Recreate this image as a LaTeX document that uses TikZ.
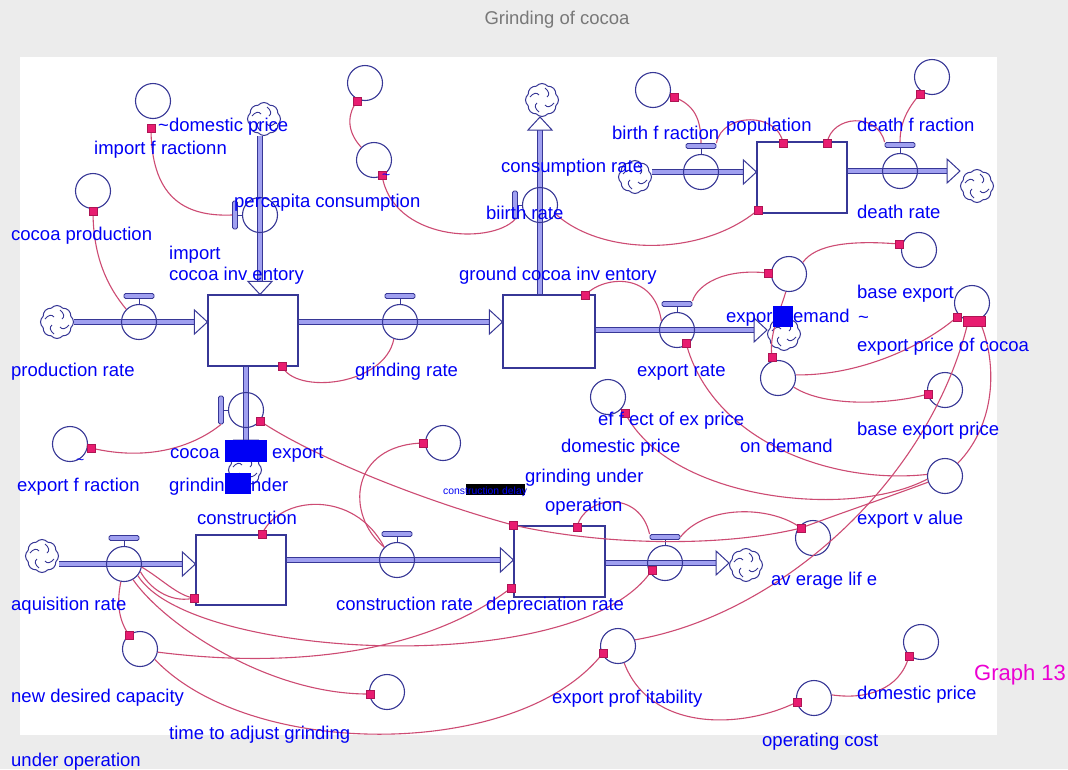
\documentclass[tikz,border=0pt]{standalone}
\usepackage{fontspec}
\setmainfont{Liberation Sans}
\usetikzlibrary{shapes.symbols,calc}

\definecolor{txtblue}{RGB}{0,0,245}
\definecolor{navyline}{RGB}{55,55,150}
\definecolor{pipefill}{RGB}{160,160,240}
\definecolor{linkred}{RGB}{205,75,115}
\definecolor{sqpink}{RGB}{232,28,112}
\definecolor{framegray}{RGB}{236,236,236}
\definecolor{titlegray}{RGB}{120,120,120}
\definecolor{graphmag}{RGB}{235,0,210}

\newcommand\labfont{\fontsize{18.5}{20}\selectfont}

\begin{document}
\begin{tikzpicture}[x=1pt,y=-1pt,
  lbl/.style={anchor=base west, inner sep=0pt, text=txtblue, font=\labfont},
  aux/.style={circle, draw=navyline, line width=1.1pt, minimum size=35pt, inner sep=0pt},
  vcirc/.style={circle, draw=navyline, line width=1.1pt, minimum size=35pt, inner sep=0pt},
  vbar/.style={rectangle, rounded corners=1.5pt, draw=navyline, fill=pipefill, line width=0.9pt, inner sep=0pt},
  stockbox/.style={rectangle, draw=navyline, fill=white, line width=1.1pt, inner sep=0pt},
  pipe/.style={draw=navyline, line width=1.1pt, double=pipefill, double distance=3.5pt},
  link/.style={draw=linkred, line width=1.1pt},
  sq/.style={rectangle, fill=sqpink, draw=sqpink!75!black, line width=0.3pt, minimum size=8.5pt, inner sep=0pt},
  hilite/.style={fill=txtblue},
  cloudnode/.style={cloud, cloud puffs=8, cloud puff arc=100, aspect=1, draw=navyline, fill=white, line width=1pt,
    minimum width=33pt, minimum height=33pt, inner sep=0pt},
  valveT/.pic={
    \node[vcirc] (-c) at (0,0) {};
    \draw[navyline, line width=1pt] (0,-17.5) -- (0,-23);
    \node[vbar, minimum width=30pt, minimum height=5pt] (-b) at (0,-26) {};
  },
  valveL/.pic={
    \node[vcirc] (-c) at (0,0) {};
    \draw[navyline, line width=1pt] (-17.5,0) -- (-23,0);
    \node[vbar, minimum width=5pt, minimum height=28pt] (-b) at (-25,0) {};
  },
  cloudpic/.pic={
    \node[cloudnode] (-n) at (0,0) {};
    \foreach \r in {0,90,180,270}{
      \draw[navyline, line width=0.9pt, rotate=\r] (3,-12) .. controls (7,-9) and (8,-5) .. (5,-3);
    }
  },
  pipetip/.pic={
    \draw[navyline, line width=1pt, fill=white] (0,0) -- (-13,-12) -- (-13,12) -- cycle;
  }
]
\useasboundingbox (0,0) rectangle (1068,769);
% page and drawing area
\fill[framegray] (0,0) rectangle (1068,769);
\fill[white] (20,57) rectangle (997,735);

\node[font=\labfont, text=titlegray, inner sep=0pt] (title) at (557,20) {Grinding of cocoa};

% clouds (sources and sinks)
\pic (c1) at (57,322) {cloudpic};
\pic (c2) at (264,119) {cloudpic};
\pic (c4) at (245,470) {cloudpic};
\pic (c5) at (542,100) {cloudpic};
\pic (c6) at (635,177) {cloudpic};
\pic (c7) at (977,186) {cloudpic};
\pic (c8) at (784,334) {cloudpic};
\pic (c9) at (42,556) {cloudpic};
\pic (c11) at (746,565) {cloudpic};

% stocks
\node[stockbox, minimum width=90pt, minimum height=71pt] (s1) at (253,330.5) {};
\node[stockbox, minimum width=92pt, minimum height=73pt] (s2) at (549,331.5) {};
\node[stockbox, minimum width=90pt, minimum height=71pt] (s3) at (802,177.5) {};
\node[stockbox, minimum width=90pt, minimum height=70pt] (s4) at (241,570) {};
\node[stockbox, minimum width=91pt, minimum height=71pt] (s5) at (559.5,561.5) {};

% valve positions (named coordinates for the flow lines)
\coordinate (p1) at (139,322);
\coordinate (p2) at (260,215);
\coordinate (p3) at (400,322);
\coordinate (p4) at (246,410);
\coordinate (p5) at (540,205);
\coordinate (p6) at (701,172);
\coordinate (p7) at (900,171);
\coordinate (p8) at (677,330);
\coordinate (p9) at (124,564);
\coordinate (p10) at (397,560);
\coordinate (p11) at (665,563);

% flow pipes
\draw[pipe] (c1-n.east |- p1) -- ($(s1.west |- p1)+(-13,0)$);
\draw[pipe] (s1.east |- p3) -- ($(s2.west |- p3)+(-13,0)$);
\draw[pipe] (p2 |- c2-n.south) -- ($(p2 |- s1.north)+(0,-13)$);
\draw[pipe] (p4 |- s1.south) -- ($(p4 |- c4-n.north)+(0,-13)$);
\draw[pipe] (p5 |- s2.north) -- ($(p5 |- c5-n.south)+(0,13)$);
\draw[pipe] (c6-n.east |- p6) -- ($(s3.west |- p6)+(-13,0)$);
\draw[pipe] (s3.east |- p7) -- ($(c7-n.west |- p7)+(-13,0)$);
\draw[pipe] (s2.east |- p8) -- ($(c8-n.west |- p8)+(-13,0)$);
\draw[pipe] (c9-n.east |- p9) -- ($(s4.west |- p9)+(-13,0)$);
\draw[pipe] (s4.east |- p10) -- ($(s5.west |- p10)+(-13,0)$);
\draw[pipe] (s5.east |- p11) -- ($(c11-n.west |- p11)+(-13,0)$);

% pipe heads
\pic at (s1.west |- p1) {pipetip};
\pic at (s2.west |- p3) {pipetip};
\pic[rotate=-90] at (p2 |- s1.north) {pipetip};
\pic[rotate=-90] at (p4 |- c4-n.north) {pipetip};
\pic[rotate=90] at (p5 |- c5-n.south) {pipetip};
\pic at (s3.west |- p6) {pipetip};
\pic at (c7-n.west |- p7) {pipetip};
\pic at (c8-n.west |- p8) {pipetip};
\pic at (s4.west |- p9) {pipetip};
\pic at (s5.west |- p10) {pipetip};
\pic at (c11-n.west |- p11) {pipetip};

% valves
\pic (v1) at (p1) {valveT};
\pic (v2) at (p2) {valveL};
\pic (v3) at (p3) {valveT};
\pic (v4) at (p4) {valveL};
\pic (v5) at (p5) {valveL};
\pic (v6) at (p6) {valveT};
\pic (v7) at (p7) {valveT};
\pic (v8) at (p8) {valveT};
\pic (v9) at (p9) {valveT};
\pic (v10) at (p10) {valveT};
\pic (v11) at (p11) {valveT};

% auxiliaries
\node[aux] (a1) at (153,101) {};
\node[aux] (a2) at (93,191) {};
\node[aux] (a3) at (365,83) {};
\node[aux] (a4) at (374,160) {};
\node[aux] (a5) at (653,90) {};
\node[aux] (a6) at (932,77) {};
\node[aux] (a7) at (789,274) {};
\node[aux] (a8) at (919,250) {};
\node[aux] (a9) at (972,303) {};
\node[aux] (a10) at (778,378) {};
\node[aux] (a11) at (945,390) {};
\node[aux] (a12) at (608,397) {};
\node[aux] (a13) at (945,476) {};
\node[aux] (a14) at (443,443) {};
\node[aux] (a15) at (70,444) {};
\node[aux] (a16) at (813,538) {};
\node[aux] (a17) at (140,649) {};
\node[aux] (a18) at (387,692) {};
\node[aux] (a19) at (618,646) {};
\node[aux] (a20) at (814,698) {};
\node[aux] (a21) at (921,642) {};

% connector end markers
\coordinate (q1) at (151,128);
\coordinate (q2) at (93,211);
\coordinate (q3) at (357,101);
\coordinate (q4) at (382,175);
\coordinate (q5) at (758,210);
\coordinate (q6) at (674,97);
\coordinate (q7) at (783,143);
\coordinate (q8) at (827,143);
\coordinate (q9) at (920,94);
\coordinate (q10) at (282,366);
\coordinate (q11) at (585,295);
\coordinate (q12) at (768,273);
\coordinate (q13) at (899,244);
\coordinate (q14) at (772,357);
\coordinate (q15) at (957,317);
\coordinate (q15b) at (968,322);
\coordinate (q15c) at (980,322);
\coordinate (q16) at (928,394);
\coordinate (q19) at (686,343);
\coordinate (q20) at (625,413);
\coordinate (q21) at (801,528);
\coordinate (q22) at (513,525);
\coordinate (q23) at (260,421);
\coordinate (q24) at (91,448);
\coordinate (q25) at (423,443);
\coordinate (q26) at (262,534);
\coordinate (q27) at (577,527);
\coordinate (q29) at (194,598);
\coordinate (q30) at (652,570);
\coordinate (q31) at (370,694);
\coordinate (q32) at (129,635);
\coordinate (q33) at (511,588);
\coordinate (q34) at (603,653);
\coordinate (q35) at (797,702);
\coordinate (q36) at (909,656);

% connectors
\draw[link] (q1) .. controls +(0,67) and +(-50,2) .. (v2-b.west);
\draw[link] (q2) .. controls +(0,44) and +(-20,-24) .. (v1-c.135);
\draw[link] (q3) .. controls +(-12,17) and +(-12,-13) .. (a4.135);
\draw[link] (q4) .. controls +(10,65) and +(-25,26) .. (v5-b.south);
\draw[link] (v5-c.-30) .. controls +(45,41) and +(-58,48) .. (q5);
\draw[link] (q6) .. controls +(20,8) and +(0,-25) .. (v6-b.north);
\draw[link] (q7) .. controls +(-5,-31) and +(6,-31) .. (v6-b.north east);
\draw[link] (q8) .. controls +(5,-28) and +(-7,-30) .. (v7-b.north west);
\draw[link] (q9) .. controls +(-12,14) and +(0,-20) .. (v7-b.north);
\draw[link] (q10) .. controls +(13,29) and +(-9,47) .. (v3-c.-110);
\draw[link] (q11) .. controls +(20,-20) and +(-7,-49) .. (v8-c.150);
\draw[link] (q12) .. controls +(-45,-5) and +(5,-16) .. (v8-b.north east);
\draw[link] (q13) .. controls +(-49,-4) and +(12.6,-17.8) .. (a7.40);
\draw[link] (a7.-100) .. controls +(-8,25) and +(-3,-20) .. (q14);
\draw[link] (a10.10) .. controls +(65,1) and +(-32,28) .. (q15);
\draw[link] (a10.-30) .. controls +(32,21) and +(-35,10) .. (q16);
\draw[link] (q15b) .. controls +(-38,158) and +(145.6,-25) .. (a19.20);
\draw[link] (q15c) .. controls +(18,43) and +(37.6,-38.6) .. (a13.45);
\draw[link] (q19) .. controls +(26,97) and +(-97.6,10.5) .. (a13.175);
\draw[link] (q20) .. controls +(45,87) and +(-78,41) .. (a13.190);
\draw[link] (q21) .. controls +(40,-15) and +(-40,15) .. (a13.200);
\draw[link] (q22) .. controls +(87,20) and +(-81,20) .. (q21);
\draw[link] (q23) .. controls +(50,34) and +(-93,-25) .. (q22);
\draw[link] (q24) .. controls +(59,14) and +(-26,21) .. (v4-b.south);
\draw[link] (q25) .. controls +(-73,2) and +(-39.6,-32.6) .. (v10-c.north west);
\draw[link] (q26) .. controls +(18,-39) and +(-29.6,-57.6) .. (v10-c.north west);
\draw[link] (q27) .. controls +(8,-32) and +(-10,-44.5) .. (v11-b.north west);
\draw[link] (q21) .. controls +(-31,-23) and +(25,-32) .. (v11-b.east);
\draw[link] (v9-c.-10) .. controls +(19,11) and +(-16,-2) .. (q29);
\draw[link] (v9-c.-25) .. controls +(12,21) and +(-19,5) .. (q29);
\draw[link] (v9-c.-40) .. controls +(52.6,84.75) and +(-72,110) .. (q30);
\draw[link] (v9-c.-60) .. controls +(32,46) and +(-100,1) .. (q31);
\draw[link] (v9-c.-100) .. controls +(-5,24) and +(-9,-13) .. (q32);
\draw[link] (a17.-10) .. controls +(143,18) and +(-81,62) .. (q33);
\draw[link] (a17.-35) .. controls +(96,101) and +(-83,107) .. (q34);
\draw[link] (a19.-70) .. controls +(26,68) and +(-57,28) .. (q35);
\draw[link] (q36) .. controls +(-9,34) and +(34,5) .. (a20.10);

% connector squares
\foreach \q in {q1,q2,q3,q4,q5,q6,q7,q8,q9,q10,q11,q12,q13,q14,q15,q16,q19,q20,q21,q22,q23,q24,q25,q26,q27,q29,q30,q31,q32,q33,q34,q35,q36}
  \node[sq] at (\q) {};
\node[sq, minimum width=22pt, minimum height=10pt] (q15bar) at (974,321.5) {};

% labels
\node[lbl] (t1) at (158,131) {\textasciitilde domestic price};
\node[lbl] (t2) at (94,154) {import f ractionn};
\node[lbl] (t3) at (234,207) {percapita consumption};
\node[lbl] (t4) at (11,240) {cocoa production};
\node[lbl] (t5) at (169,259) {import};
\node[lbl] (t6) at (169,280) {cocoa inv entory};
\node[lbl] (t7) at (11,376) {production rate};
\node[lbl] (t8) at (355,376) {grinding rate};
\node[lbl] (t9) at (459,280) {ground cocoa inv entory};
\node[lbl] (t10) at (501,172) {consumption rate};
\node[lbl] (t11) at (486,219) {biirth rate};
\node[lbl] (t12) at (612,139) {birth f raction};
\node[lbl] (t13) at (726,131) {population};
\node[lbl] (t14) at (857,131) {death f raction};
\node[lbl] (t15) at (857,218) {death rate};
\node[lbl] (t16) at (857,298) {base export};
\node[lbl] (t17) at (726,322) {expor};
\node[lbl] (t18) at (793,322) {emand};
\node[lbl] (t19) at (858,323) {\textasciitilde};
\node[lbl] (t20) at (857,351) {export price of cocoa};
\node[lbl] (t21) at (637,376) {export rate};
\node[lbl] (t22) at (857,435) {base export price};
\node[lbl] (t23) at (598,425) {ef f ect of ex price};
\node[lbl] (t24) at (561,452) {domestic price};
\node[lbl] (t25) at (740,452) {on demand};
\node[lbl] (t26) at (525,482) {grinding under};
\node[lbl] (t27) at (545,511) {operation};
\node[lbl] (t28) at (857,524) {export v alue};
\node[lbl] (t29) at (771,585) {av erage lif e};
\node[lbl] (t30) at (197,524) {construction};
\node[lbl] (t31) at (170,458) {cocoa};
\node[lbl] (t32) at (272,458) {export};
\node[lbl] (t33) at (17,491) {export f raction};
\node[lbl] (t34) at (169,491) {grindin};
\node[lbl] (t35) at (251,491) {nder};
\node[lbl] (t36) at (11,610) {aquisition rate};
\node[lbl] (t37) at (336,610) {construction rate};
\node[lbl] (t38) at (486,610) {depreciation rate};
\node[lbl] (t39) at (11,702) {new desired capacity};
\node[lbl] (t40) at (169,739) {time to adjust grinding};
\node[lbl] (t41) at (11,766) {under operation};
\node[lbl] (t42) at (552,703) {export prof itability};
\node[lbl] (t43) at (857,699) {domestic price};
\node[lbl] (t44) at (762,746) {operating cost};
\node[lbl, font=\fontsize{14}{16}\selectfont] (t45) at (382,179) {\textasciitilde};
\node[lbl, font=\fontsize{14}{16}\selectfont] (t46) at (76,464) {\textasciitilde};
\node[anchor=base west, inner sep=0pt, text=graphmag, font=\fontsize{22}{24}\selectfont] (t47) at (974,680) {Graph 13};

% selection highlights
\fill[hilite] (773,306) rectangle (793,327);
\fill[hilite] (225,440) rectangle (267,462);
\fill[hilite] (225,473) rectangle (251,494);
\fill[black] (466,484) rectangle (525,495);
\node[lbl, font=\fontsize{10.4}{12}\selectfont] (t48) at (443,494) {construction delay};
\end{tikzpicture}
\end{document}
